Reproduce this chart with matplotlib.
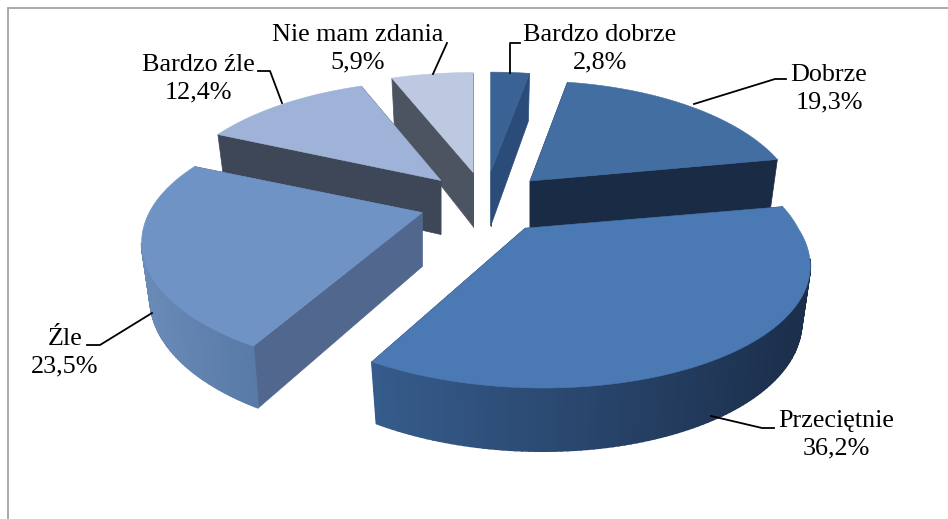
import numpy as np
import matplotlib.pyplot as plt
from matplotlib.colors import to_rgb

plt.rcParams['font.family'] = ['Liberation Serif', 'DejaVu Serif']

labels = ['Bardzo dobrze', 'Dobrze', 'Przeciętnie', 'Źle', 'Bardzo źle', 'Nie mam zdania']
values = [2.8, 19.3, 36.2, 23.5, 12.4, 5.9]

top_colors = ['#3A6295', '#426EA2', '#4A79B3', '#7093C6', '#9EB3D7', '#BCC9E1']
side_colors = ['#2B4C78', '#1A2C45', '#1E3350', '#52678D', '#3E4757', '#4D5461']
wall_left = ['#2B4C78', '#1A2C45', '#365C8C', '#6A8AB8', '#3E4757', '#4D5461']
wall_right = ['#2B4C78', '#1A2C45', '#1B2E4A', '#587AA6', '#3E4757', '#4D5461']

# where the labels go, pixels
label_xy = [(600, 49), (829, 89), (836, 435), (65, 353), (198, 79), (358, 49)]
leaders = [
    [(520, 43), (510, 43), (510, 73)],
    [(786, 79), (775, 79), (694, 104)],
    [(774, 428), (762, 428), (711, 416)],
    [(87, 345), (100, 345), (152, 313)],
    [(258, 71), (270, 71), (282, 103)],
    [(447, 43), (433, 74)],
]

# pie geometry in pixels
cx, cy = 485, 203
ex, ey = 64, 31      # how far the slices are pulled out
a, b = 273, 123      # disk radius
p = 0.23             # perspective
h = 54               # thickness
shrink = 0.97
# small per slice corrections for the 3d look
a_scale = [1, 0.96, 1, 1, 0.98, 1]
lean = [0, 0, 18, 0, 0, 0]
nudge = [0, 0, 3, -2, 0, 0]

fig = plt.figure(figsize=(9.48, 5.19), dpi=100)
ax = fig.add_axes([0, 0, 1, 1])
ax.set_xlim(0, 948)
ax.set_ylim(519, 0)
ax.axis('off')

# chart frame
ax.plot([8, 8, 948], [519, 8, 8], color='#A3A3A3', lw=1.3, solid_joinstyle='miter')


def top_pts(i, theta, ox, oy):
    X, Y = np.sin(theta), np.cos(theta)
    d = 1 + p * Y
    return ox + a * a_scale[i] * X / d + lean[i] * np.clip(-Y, 0, None), oy - b * Y / d


def low_pts(i, theta, ox, oy):
    x, y = top_pts(i, theta, ox, oy)
    d = 1 + p * np.cos(theta)
    return ox + shrink * (x - ox), y + h / d ** 0.6


def draw_slice(i, t1, t2):
    mid = (t1 + t2) / 2
    ox = cx + ex * np.sin(mid) + nudge[i]
    oy = cy - ey * np.cos(mid)
    # radial walls, far one first
    ends = sorted([t1, t2], key=lambda t: -np.cos(t))
    for t in ends:
        x0, y0 = top_pts(i, t, ox, oy)
        x1, y1 = low_pts(i, t, ox, oy)
        ax.fill([ox, x0, x1, ox], [oy, y0, y1, oy + h], color=side_colors[i], lw=0.5)
    # outer wall with its shading, only the part facing us
    th = np.linspace(t1, t2, 120)
    lo, hi = np.array(to_rgb(wall_left[i])), np.array(to_rgb(wall_right[i]))
    xs, _ = top_pts(i, th, ox, oy)
    for k in range(len(th) - 1):
        if np.cos((th[k] + th[k + 1]) / 2) > -p:
            continue
        tt = np.array([th[k], th[k + 1]])
        xt, yt = top_pts(i, tt, ox, oy)
        xb, yb = low_pts(i, tt, ox, oy)
        f = np.clip((xt.mean() - xs.min()) / (xs.max() - xs.min()), 0, 1)
        c = lo + (hi - lo) * f
        ax.fill([xt[0], xt[1], xb[1], xb[0]], [yt[0], yt[1], yb[1], yb[0]], color=c, lw=1.2)
    # top face
    xt, yt = top_pts(i, th, ox, oy)
    ax.fill(np.r_[ox, xt], np.r_[oy, yt], color=top_colors[i], lw=0.4)


edges = np.r_[0, np.cumsum(values)] / sum(values) * 2 * np.pi
for i in [5, 4, 0, 1, 3, 2]:
    draw_slice(i, edges[i], edges[i + 1])

for pts in leaders:
    xs, ys = zip(*pts)
    ax.plot(xs, ys, color='black', lw=1.3, zorder=20)

for name, v, (x, y) in zip(labels, values, label_xy):
    ax.text(x, y, name + '\n' + str(v).replace('.', ',') + '%', ha='center', va='center',
            fontsize=18.8, color='black', linespacing=1.3, zorder=21)

fig.savefig('out.png', dpi=100)
